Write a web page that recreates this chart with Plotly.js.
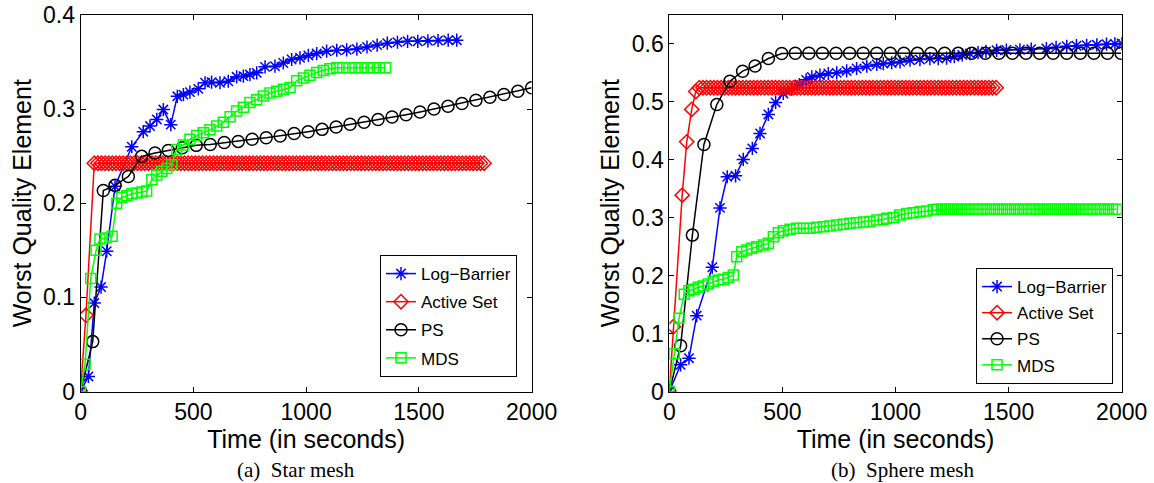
<!DOCTYPE html>
<html>
<head>
<meta charset="utf-8">
<script src="https://cdn.plot.ly/plotly-3.0.1.min.js"></script>
<style>html,body{margin:0;padding:0;background:#fff;}#chart{width:1154px;height:483px;}</style>
</head>
<body>
<div id="chart"></div>
<script>
// ---------- (a) Star mesh ----------
var starLogBarrierT = [0,35,61,91,116,153,227,278,308,338,367,400,429,456,485,522,552,581,618,655,692,722,751,781,818,862,899,936,973,1010,1047,1091,1136,1180,1225,1270,1315,1360,1405,1450,1495,1540,1585,1630,1668];
var starLogBarrierV = [0,0.016,0.094,0.111,0.149,0.218,0.260,0.276,0.282,0.289,0.2995,0.2835,0.3136,0.3154,0.318,0.3215,0.328,0.3286,0.328,0.3296,0.3343,0.335,0.3367,0.3385,0.3449,0.3456,0.349,0.3527,0.3545,0.357,0.359,0.3615,0.3625,0.363,0.3638,0.366,0.368,0.370,0.371,0.372,0.372,0.3725,0.3729,0.3732,0.3732];

var starActiveSetT = [0,24,
  61,77,93,109,125,141,157,173,189,205,
  221,237,253,269,285,301,317,333,349,365,
  381,397,413,429,445,461,477,493,509,525,
  541,557,573,589,605,621,637,653,669,685,
  701,717,733,749,765,781,797,813,829,845,
  861,877,893,909,925,941,957,973,989,1005,
  1021,1037,1053,1069,1085,1101,1117,1133,1149,1165,
  1181,1197,1213,1229,1245,1261,1277,1293,1309,1325,
  1341,1357,1373,1389,1405,1421,1437,1453,1469,1485,
  1501,1517,1533,1549,1565,1581,1597,1613,1629,1645,
  1661,1677,1693,1709,1725,1741,1757,1773,1789];
var starActiveSetV = [0,0.081,
  0.2425,0.2425,0.2425,0.2425,0.2425,0.2425,0.2425,0.2425,0.2425,0.2425,
  0.2425,0.2425,0.2425,0.2425,0.2425,0.2425,0.2425,0.2425,0.2425,0.2425,
  0.2425,0.2425,0.2425,0.2425,0.2425,0.2425,0.2425,0.2425,0.2425,0.2425,
  0.2425,0.2425,0.2425,0.2425,0.2425,0.2425,0.2425,0.2425,0.2425,0.2425,
  0.2425,0.2425,0.2425,0.2425,0.2425,0.2425,0.2425,0.2425,0.2425,0.2425,
  0.2425,0.2425,0.2425,0.2425,0.2425,0.2425,0.2425,0.2425,0.2425,0.2425,
  0.2425,0.2425,0.2425,0.2425,0.2425,0.2425,0.2425,0.2425,0.2425,0.2425,
  0.2425,0.2425,0.2425,0.2425,0.2425,0.2425,0.2425,0.2425,0.2425,0.2425,
  0.2425,0.2425,0.2425,0.2425,0.2425,0.2425,0.2425,0.2425,0.2425,0.2425,
  0.2425,0.2425,0.2425,0.2425,0.2425,0.2425,0.2425,0.2425,0.2425,0.2425,
  0.2425,0.2425,0.2425,0.2425,0.2425,0.2425,0.2425,0.2425,0.2425];

var starPST = [0,54,101,153,212,271,330,389,451,513,575,637,699,761,823,885,947,1009,1071,1133,1195,1257,1319,1381,1443,1505,1567,1629,1691,1753,1815,1877,1939,2000];
var starPSV = [0,0.053,0.2136,0.219,0.2285,0.2498,0.2534,0.256,0.259,0.2615,0.2625,0.2645,0.2657,0.268,0.2695,0.2715,0.274,0.276,0.2785,0.281,0.284,0.286,0.289,0.2917,0.2941,0.297,0.3002,0.303,0.306,0.3094,0.3126,0.3155,0.319,0.3226];

var starMDST = [0,20,45,69,86,113,140,160,183,205,228,250,272,293,316,338,360,382,404,426,456,485,515,544,574,604,633,663,692,722,751,781,810,840,870,899,929,958,988,1017,1047,1076,1106,1136,1163,1190,1217,1244,1271,1298,1325,1352];
var starMDSV = [0,0.029,0.12,0.15,0.162,0.163,0.165,0.2,0.206,0.208,0.21,0.211,0.212,0.213,0.225,0.23,0.234,0.237,0.241,0.257,0.262,0.268,0.272,0.275,0.278,0.282,0.286,0.292,0.298,0.302,0.307,0.31,0.314,0.317,0.319,0.321,0.323,0.33,0.333,0.336,0.339,0.341,0.343,0.344,0.344,0.344,0.344,0.344,0.344,0.344,0.344,0.344];

// ---------- (b) Sphere mesh ----------
var sphLogBarrierT = [0,50,87,121,190,224,256,293,327,367,401,438,470,504,540,575,605,630,666,703,740,784,828,873,917,946,983,1020,1064,1108,1152,1189,1226,1260,1295,1329,1365,1400,1447,1490,1550,1600,1667,1710,1757,1800,1845,1890,1933,1970,2000];
var sphLogBarrierV = [0,0.046,0.0575,0.131,0.2145,0.317,0.3707,0.3724,0.4007,0.4196,0.4455,0.4783,0.499,0.5145,0.522,0.53,0.538,0.543,0.546,0.549,0.55,0.5534,0.5576,0.5616,0.5645,0.566,0.5672,0.569,0.5719,0.573,0.5748,0.5748,0.5755,0.578,0.581,0.5834,0.585,0.587,0.589,0.5895,0.590,0.591,0.592,0.594,0.596,0.597,0.5977,0.5985,0.5995,0.600,0.6007];

var sphActiveSetT = [0,18,57,77,99,117,
  133,149,165,181,197,213,229,245,261,277,
  293,309,325,341,357,373,389,405,421,437,
  453,469,485,501,517,533,549,565,581,597,
  613,629,645,661,677,693,709,725,741,757,
  773,789,805,821,837,853,869,885,901,917,
  933,949,965,981,997,1013,1029,1045,1061,1077,
  1093,1109,1125,1141,1157,1173,1189,1205,1221,1237,
  1253,1269,1285,1301,1317,1333,1349,1365,1381,1397,
  1413,1429,1445];
var sphActiveSetV = [0,0.112,0.339,0.431,0.487,0.518,
  0.5245,0.5245,0.5245,0.5245,0.5245,0.5245,0.5245,0.5245,0.5245,0.5245,
  0.5245,0.5245,0.5245,0.5245,0.5245,0.5245,0.5245,0.5245,0.5245,0.5245,
  0.5245,0.5245,0.5245,0.5245,0.5245,0.5245,0.5245,0.5245,0.5245,0.5245,
  0.5245,0.5245,0.5245,0.5245,0.5245,0.5245,0.5245,0.5245,0.5245,0.5245,
  0.5245,0.5245,0.5245,0.5245,0.5245,0.5245,0.5245,0.5245,0.5245,0.5245,
  0.5245,0.5245,0.5245,0.5245,0.5245,0.5245,0.5245,0.5245,0.5245,0.5245,
  0.5245,0.5245,0.5245,0.5245,0.5245,0.5245,0.5245,0.5245,0.5245,0.5245,
  0.5245,0.5245,0.5245,0.5245,0.5245,0.5245,0.5245,0.5245,0.5245,0.5245,
  0.5245,0.5245,0.5245];

var sphPST = [0,50,102,153,210,268,324,379,438,497,557,617,677,737,797,857,917,977,1037,1097,1157,1217,1277,1337,1397,1457,1517,1577,1637,1697,1757,1817,1877,1937,1997];
var sphPSV = [0,0.079,0.270,0.4265,0.4955,0.5357,0.553,0.562,0.5748,0.5834,0.584,0.584,0.584,0.584,0.584,0.584,0.584,0.584,0.584,0.584,0.584,0.584,0.584,0.584,0.584,0.584,0.584,0.584,0.584,0.584,0.584,0.584,0.584,0.584,0.584];

var sphMDST = [0,22,43,66,87,106,128,150,172,194,216,239,261,283,298,320,342,364,386,416,438,460,482,504,534,563,592,622,651,681,710,740,769,799,828,858,887,917,946,961,990,1019,1049,1078,1108,1137,1167,
  1185,1203,1221,1239,1257,1275,1293,1311,1329,1347,
  1365,1383,1401,1419,1437,1455,1473,1491,1509,1527,
  1545,1563,1581,1599,1617,1635,1653,1671,1689,1707,
  1725,1743,1761,1779,1797,1815,1833,1851,1869,1887,
  1905,1923,1941,1959,1977];
var sphMDSV = [0,0.065,0.1265,0.168,0.174,0.1765,0.18,0.182,0.1857,0.19,0.1926,0.1938,0.197,0.201,0.2328,0.2414,0.2443,0.2472,0.25,0.253,0.256,0.267,0.2742,0.2776,0.28,0.2817,0.2817,0.2817,0.2834,0.2845,0.2857,0.2874,0.2886,0.2903,0.2914,0.2926,0.2937,0.296,0.2971,0.299,0.3005,0.3046,0.3075,0.3086,0.3103,0.3115,0.3137,
  0.3145,0.3145,0.3145,0.3145,0.3145,0.3145,0.3145,0.3145,0.3145,0.3145,
  0.3145,0.3145,0.3145,0.3145,0.3145,0.3145,0.3145,0.3145,0.3145,0.3145,
  0.3145,0.3145,0.3145,0.3145,0.3145,0.3145,0.3145,0.3145,0.3145,0.3145,
  0.3145,0.3145,0.3145,0.3145,0.3145,0.3145,0.3145,0.3145,0.3145,0.3145,
  0.3145,0.3145,0.3145,0.3145,0.3145];

var seriesNames = ['Log\u2212Barrier','Active Set','PS','MDS'];
var xTickVals = [0,500,1000,1500,2000];
var captionA = '(a)  Star mesh';
var captionB = '(b)  Sphere mesh';
var yTitle = 'Worst Quality Element';
var xTitle = 'Time (in seconds)';

var styles = [
  {color:'#0000ff', symbol:'asterisk-open', size:11},
  {color:'#ff0000', symbol:'diamond-open', size:11},
  {color:'#000000', symbol:'circle-open', size:12},
  {color:'#00ff00', symbol:'square-open', size:10}
];

function mk(x, y, i, xa, ya, leg) {
  var s = styles[i];
  return {
    x: x, y: y, xaxis: xa, yaxis: ya, legend: leg, legendgroup: leg + '_' + i,
    type: 'scatter', mode: 'lines+markers', name: seriesNames[i],
    line: {color: s.color, width: 1.5},
    marker: {symbol: s.symbol, size: s.size, color: s.color, line: {color: s.color, width: 1.5}},
    cliponaxis: true
  };
}

var data = [
  mk(starLogBarrierT, starLogBarrierV, 0, 'x', 'y', 'legend'),
  mk(starActiveSetT, starActiveSetV, 1, 'x', 'y', 'legend'),
  mk(starPST, starPSV, 2, 'x', 'y', 'legend'),
  mk(starMDST, starMDSV, 3, 'x', 'y', 'legend'),
  mk(sphLogBarrierT, sphLogBarrierV, 0, 'x2', 'y2', 'legend2'),
  mk(sphActiveSetT, sphActiveSetV, 1, 'x2', 'y2', 'legend2'),
  mk(sphPST, sphPSV, 2, 'x2', 'y2', 'legend2'),
  mk(sphMDST, sphMDSV, 3, 'x2', 'y2', 'legend2')
];

var FONT = 'Liberation Sans, Arial, sans-serif';
function xax(domain, anchor) {
  return {
    domain: domain, anchor: anchor, range: [0, 2000],
    tickvals: xTickVals, ticks: 'inside', ticklen: 5, tickcolor: '#000', tickwidth: 1,
    showline: true, linecolor: '#000', linewidth: 1, mirror: 'ticks',
    showgrid: false, zeroline: false, automargin: false,
    tickfont: {family: FONT, size: 23, color: '#000'},
    title: {text: xTitle, font: {family: FONT, size: 25, color: '#000'}, standoff: 0}
  };
}
function yax(domain, anchor, range, dtick) {
  return {
    domain: domain, anchor: anchor, range: range, dtick: dtick, tick0: 0,
    ticks: 'inside', ticklen: 5, tickcolor: '#000', tickwidth: 1,
    showline: true, linecolor: '#000', linewidth: 1, mirror: 'ticks',
    showgrid: false, zeroline: false, automargin: false,
    tickfont: {family: FONT, size: 23, color: '#000'},
    title: {text: yTitle, font: {family: FONT, size: 25, color: '#000'}, standoff: 4}
  };
}

var layout = {
  width: 1154, height: 483,
  margin: {l: 0, r: 0, t: 0, b: 0},
  paper_bgcolor: '#fff', plot_bgcolor: '#fff',
  showlegend: true,
  xaxis: xax([0.0698, 0.4607], 'y'),
  yaxis: yax([0.1894, 0.969], 'x', [0, 0.4], 0.1),
  xaxis2: xax([0.58, 0.972], 'y2'),
  yaxis2: yax([0.1894, 0.969], 'x2', [0, 0.65], 0.1),
  legend: {x: 0.3293, y: 0.472, xanchor: 'left', yanchor: 'top', bgcolor: '#fff',
           traceorder: 'grouped', tracegroupgap: 3,
           bordercolor: '#000', borderwidth: 1, font: {family: FONT, size: 17, color: '#000'}},
  legend2: {x: 0.8458, y: 0.4451, xanchor: 'left', yanchor: 'top', bgcolor: '#fff',
           traceorder: 'grouped', tracegroupgap: 1,
           bordercolor: '#000', borderwidth: 1, font: {family: FONT, size: 17, color: '#000'}},
  annotations: [
    {text: captionA, xref: 'paper', yref: 'paper', x: 296/1154, y: 13/483, xanchor: 'center', yanchor: 'middle',
     showarrow: false, font: {family: 'Liberation Serif, Times New Roman, serif', size: 21, color: '#000'}},
    {text: captionB, xref: 'paper', yref: 'paper', x: 902/1154, y: 13/483, xanchor: 'center', yanchor: 'middle',
     showarrow: false, font: {family: 'Liberation Serif, Times New Roman, serif', size: 21, color: '#000'}}
  ]
};

Plotly.newPlot('chart', data, layout, {displayModeBar: false, staticPlot: true});
</script>
</body>
</html>
